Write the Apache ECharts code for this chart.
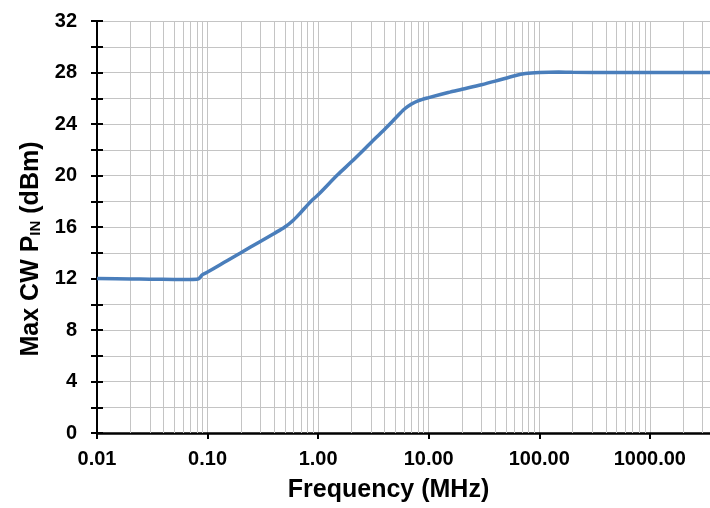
<!DOCTYPE html>
<html>
<head>
<meta charset="utf-8">
<script src="https://cdn.jsdelivr.net/npm/echarts@6/dist/echarts.min.js"></script>
<style>html,body{margin:0;padding:0;background:#fff}#c{width:710px;height:508px}</style>
</head>
<body>
<div id="c"></div>
<script>
var freqMHz = [0.01, 0.02, 0.03, 0.05, 0.07, 0.082, 0.09, 0.1, 0.15, 0.2, 0.3, 0.4, 0.5, 0.6, 0.7, 0.8, 0.9, 1.0, 1.5, 2, 3, 4, 5, 6, 7, 8, 10, 15, 20, 30, 40, 60, 75, 100, 150, 200, 500, 1000, 2000, 3500];
var maxCwPin = [12.0, 11.97, 11.95, 11.93, 11.93, 11.96, 12.3, 12.5, 13.38, 14.0, 14.88, 15.5, 16.0, 16.55, 17.15, 17.7, 18.15, 18.5, 20.05, 21.06, 22.55, 23.6, 24.45, 25.15, 25.55, 25.8, 26.05, 26.45, 26.7, 27.05, 27.33, 27.75, 27.92, 28.0, 28.03, 28.02, 28.0, 28.0, 28.0, 28.0];
var minorGridFreqs = [];
[0.01, 0.1, 1, 10, 100, 1000].forEach(function (d) {
  for (var k = 2; k <= 9; k++) { var v = +(d * k).toPrecision(3); if (v < 3500) minorGridFreqs.push(v); }
});
var yTicks = [0, 4, 8, 12, 16, 20, 24, 28, 32];

var chart = echarts.init(document.getElementById('c'));
var fontFam = 'Liberation Sans, Arial, sans-serif';
var gridColor = '#c4c4c4';
chart.setOption({
  animation: false,
  grid: { left: 97, right: 0, top: 21, bottom: 71, containLabel: false },
  xAxis: {
    type: 'log', logBase: 10, min: 0.01, max: 3500,
    name: 'Frequency (MHz)', nameLocation: 'middle', nameGap: 45,
    nameTextStyle: { fontFamily: fontFam, fontWeight: 'bold', fontSize: 25, color: '#000', padding: [0, 30, 0, 0] },
    axisLine: { lineStyle: { color: '#000', width: 2.5 } },
    axisTick: { show: true, length: 6, lineStyle: { color: '#000', width: 2 } },
    axisLabel: { show: true, margin: 16, showMaxLabel: false, fontFamily: fontFam, fontWeight: 'bold', fontSize: 20, color: '#000',
      formatter: function (v) { return v.toFixed(2); } },
    splitLine: { show: true, lineStyle: { color: gridColor, width: 1 } }
  },
  yAxis: [{
    type: 'value', min: 0, max: 32, interval: 2,
    name: '{a|Max CW P}{b|IN}{a| (dBm)}', nameLocation: 'middle', nameGap: 46, nameRotate: 90,
    nameTextStyle: { padding: [0, 44, 0, 0],
      rich: {
        a: { fontFamily: fontFam, fontWeight: 'bold', fontSize: 25, color: '#000', lineHeight: 28, verticalAlign: 'bottom' },
        b: { fontFamily: fontFam, fontWeight: 'bold', fontSize: 15, color: '#000', lineHeight: 15, verticalAlign: 'bottom' }
      } },
    axisLine: { show: true, lineStyle: { color: '#000', width: 2 } },
    axisTick: { show: true, length: 6, lineStyle: { color: '#000', width: 2 } },
    axisLabel: { margin: 20, fontFamily: fontFam, fontWeight: 'bold', fontSize: 20, color: '#000',
      formatter: function (v) { return yTicks.indexOf(v) >= 0 ? String(v) : ''; } },
    splitLine: { show: true, lineStyle: { color: gridColor, width: 1 } }
  }, {
    type: 'value', min: 0, max: 32, interval: 2, position: 'left',
    axisLine: { show: false },
    axisTick: { show: true, inside: true, length: 6, lineStyle: { color: '#000', width: 2 } },
    axisLabel: { show: false },
    splitLine: { show: false }
  }],
  series: [{
    type: 'line', data: freqMHz.map(function (f, i) { return [f, maxCwPin[i]]; }),
    showSymbol: false, smooth: 0.3, z: 5,
    lineStyle: { color: '#4a7ebb', width: 3.5 },
    markLine: {
      silent: true, symbol: ['none', 'none'], label: { show: false }, animation: false,
      lineStyle: { color: gridColor, width: 1, type: 'solid' },
      data: minorGridFreqs.map(function (v) { return { xAxis: v }; }),
      z: 1
    }
  }]
});
</script>
</body>
</html>
